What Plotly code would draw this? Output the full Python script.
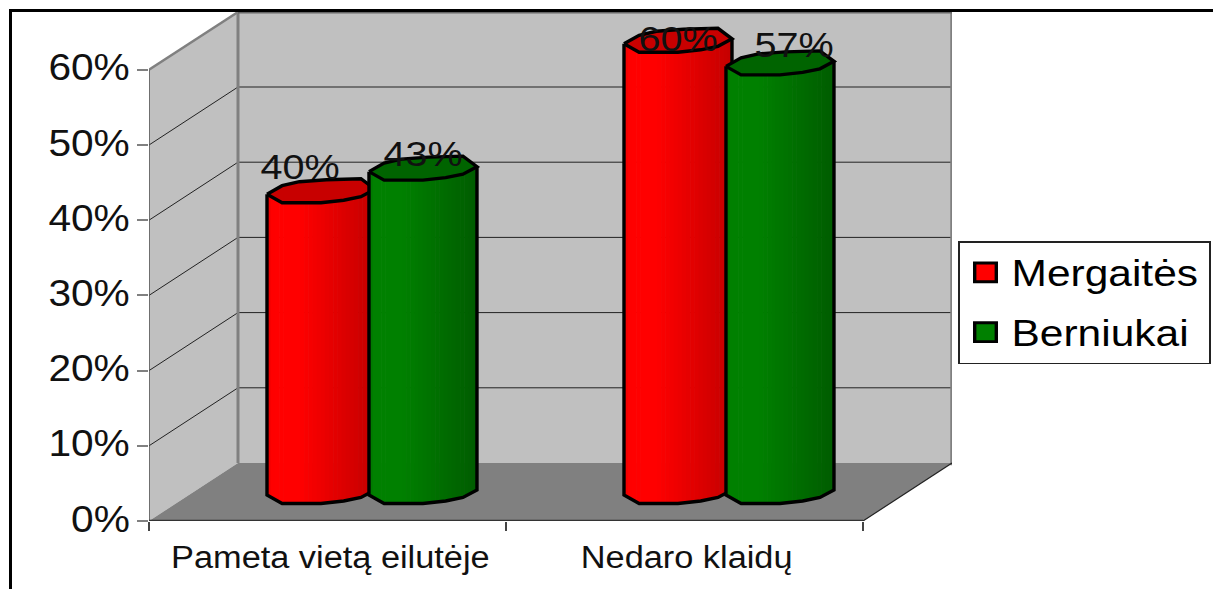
import numpy as np
import plotly.graph_objects as go

categories = ["Pameta vietą eilutėje", "Nedaro klaidų"]
mergaites = [40, 60]
berniukai = [43, 57]
y_ticks = [0, 10, 20, 30, 40, 50, 60]

FONT = "Liberation Sans, Arial, sans-serif"
W, H = 1213, 589
L, R, T, B = 149, 952, 12, 521
PX_Y = 7.52            # pixels per percent
PX_X = 357.0           # pixels per category
DX = 89 / PX_X         # 3D depth, in axis units
DY = 58 / PX_Y
XR = [-0.5, -0.5 + (R - L) / PX_X]
YR = [0, (B - T) / PX_Y]
CYL_W = 108 / PX_X
BASE = 26 / PX_Y       # cylinder foot above the front floor edge

# cylinder cap outline, as fraction of width / pixels from the left end
FU = [0, .14, .5, .71, .87, 1]
FV = [0, 8.5, 8.5, 6, 2.5, -5]
BU = [0, .14, .3, .55, .87, 1]
BV = [0, -8.5, -12.5, -14.5, -15.5, -5]


def front(u):
    return -np.interp(u, FU, FV) / PX_Y


def back(u):
    return -np.interp(u, BU, BV) / PX_Y


def shade(rgb_a, rgb_b, t):
    c = [int(round(a + (b - a) * t)) for a, b in zip(rgb_a, rgb_b)]
    return f"rgb({c[0]},{c[1]},{c[2]})"


def cylinder(fig, values, offset, stops, cap, xa, ya, name):
    n = 26
    edges = np.linspace(0, 1, n + 1)
    for i in range(n):
        um = (edges[i] + edges[i + 1]) / 2
        t = np.interp(um, [0, .06, .3, 1], [0.25, 0.0, 0.0, 1.0])
        col = shade(stops[0], stops[1], t)
        fig.add_trace(go.Bar(
            x=[k + offset + um * CYL_W for k in range(len(values))],
            y=list(values),
            base=[BASE + front(um)] * len(values),
            width=[CYL_W / n * 1.15] * len(values),
            marker=dict(color=col, line=dict(width=0)),
            showlegend=False, hoverinfo="skip", name=name,
            xaxis=xa, yaxis=ya,
        ))
    for k, v in enumerate(values):
        x0 = k + offset
        top = BASE + v
        ring_x, ring_y = [], []
        for u in BU:
            ring_x.append(x0 + u * CYL_W)
            ring_y.append(top + float(back(u)))
        for u in FU[::-1]:
            ring_x.append(x0 + u * CYL_W)
            ring_y.append(top + float(front(u)))
        fig.add_trace(go.Scatter(
            x=ring_x, y=ring_y, mode="lines", fill="toself", fillcolor=cap,
            line=dict(color="black", width=3.4), showlegend=False,
            hoverinfo="skip", xaxis=xa, yaxis=ya))
        sx = [x0, x0] + [x0 + u * CYL_W for u in FU[1:]] + [x0 + CYL_W, x0 + CYL_W]
        sy = [top, BASE] + [BASE + float(front(u)) for u in FU[1:]] + \
             [BASE + float(front(1)), top + float(front(1))]
        fig.add_trace(go.Scatter(
            x=sx, y=sy, mode="lines", line=dict(color="black", width=3.4),
            showlegend=False, hoverinfo="skip", xaxis=xa, yaxis=ya))


fig = go.Figure()

# ---- walls and floor
x0, x1 = XR[0], XR[0] + (863 - L) / PX_X
shapes = []


def poly(pts, fill, line=None, lw=0):
    d = "M" + " L".join(f"{a},{b}" for a, b in pts) + " Z"
    shapes.append(dict(type="path", path=d, xref="x", yref="y", fillcolor=fill,
                       line=dict(color=line or fill, width=lw), layer="below"))


def seg(a, b, c, d, col, w):
    shapes.append(dict(type="line", x0=a, y0=b, x1=c, y1=d, xref="x", yref="y",
                       line=dict(color=col, width=w), layer="below"))


ymax = y_ticks[-1]
poly([(x0 + DX, DY), (XR[1], DY), (XR[1], YR[1]), (x0 + DX, YR[1])], "#C0C0C0")
poly([(x0, 0), (x0 + DX, DY), (x0 + DX, YR[1]), (x0, ymax)], "#C0C0C0")
poly([(x0, 0), (x1, 0), (XR[1], DY), (x0 + DX, DY)], "#808080")
for t in y_ticks[1:-1]:
    seg(x0, t, x0 + DX, t + DY, "#222222", 1)
    seg(x0 + DX, t + DY, XR[1], t + DY, "#222222", 1)
seg(x0, ymax, x0 + DX, YR[1], "#808080", 2.5)
seg(x0 + DX, DY, x0 + DX, YR[1], "#808080", 3)
seg(XR[1], DY - 0.3, XR[1], YR[1], "#808080", 3.5)
seg(x0 + DX, YR[1], XR[1], YR[1], "#666666", 3)
seg(x0, 0, x0, ymax, "#555555", 1.5)
seg(x0, 0, x1, 0, "#333333", 2.5)
seg(x1, 0, XR[1], DY, "#222222", 1.2)

# ---- outer frame, cut off by the page at right and bottom
shapes.append(dict(type="path",
                   path=f"M{(10.5 - L) / (R - L)},{(B - H) / (B - T)} "
                        f"L{(10.5 - L) / (R - L)},{(B - 10.5) / (B - T)} "
                        f"L{(W - L) / (R - L)},{(B - 10.5) / (B - T)}",
                   xref="paper", yref="paper",
                   line=dict(color="black", width=3), layer="above"))

# ---- cylinders
cylinder(fig, mergaites, -0.1695, ((255, 0, 0), (196, 0, 0)), "#C80000", "x", "y", "Mergaitės")
cylinder(fig, berniukai, 0.1162, ((0, 128, 0), (0, 92, 0)), "#006400", "x2", "y2", "Berniukai")

# ---- legend entries
for nm, col, grp in (("Mergaitės", "#FF0000", "m"), ("Berniukai", "#008000", "b")):
    fig.add_trace(go.Scatter(
        x=[None], y=[None], mode="markers", name=nm, legendgroup=grp,
        marker=dict(symbol="square", size=16, color=col,
                    line=dict(color="black", width=2.5))))

# ---- data labels
label_offsets = {"m": [(-0.06, 28), (0.0, 5), ], "b": [(0.0, 18), (0.04, 22)]}
anns = []
for vals, off, key in ((mergaites, -0.1695, "m"), (berniukai, 0.1162, "b")):
    for k, v in enumerate(vals):
        dxx, dyy = label_offsets[key][k]
        anns.append(dict(
            x=k + off + CYL_W / 2 + dxx, y=BASE + v, xref="x", yref="y",
            text=f"{v}%", showarrow=False, yshift=dyy,
            font=dict(family=FONT, size=35, color="#111111")))

fig.update_layout(
    width=W, height=H, autosize=False,
    margin=dict(l=L, r=W - R, t=T, b=H - B, pad=0),
    paper_bgcolor="white", plot_bgcolor="white",
    barmode="overlay", shapes=shapes, annotations=anns,
    font=dict(family=FONT, color="black"),
    xaxis=dict(range=XR, tickmode="array", tickvals=[0.008, 1.006], ticktext=categories,
               showgrid=False, zeroline=False, showline=False, ticks="",
               tickfont=dict(size=31, family=FONT, color="#111111"),
               ticklabelstandoff=15,
               minor=dict(tickmode="array", tickvals=[-0.5, 0.5, 1.5],
                          ticks="outside", ticklen=9, tickwidth=1.5,
                          tickcolor="#444444", showgrid=False)),
    yaxis=dict(range=YR, tickmode="array", tickvals=y_ticks,
               ticktext=[f"{t}%" for t in y_ticks], showgrid=False, zeroline=False,
               showline=False, ticks="outside", ticklen=11, tickwidth=2,
               tickcolor="#808080",
               tickfont=dict(size=36, family=FONT, color="#111111")),
    xaxis2=dict(range=XR, overlaying="x", visible=False),
    yaxis2=dict(range=YR, overlaying="y", visible=False),
    legend=dict(x=(958 - L) / (R - L), xanchor="left", y=(B - 241) / (B - T), yanchor="top",
                bgcolor="white", bordercolor="#222222", borderwidth=1.5,
                font=dict(size=36, family=FONT, color="black"),
                tracegroupgap=10, itemwidth=42),
)

# the reference's lettering is stretched sideways
post = """
document.body.style.margin='0';document.body.style.overflow='hidden';
function stretch(sel,f,dy){document.querySelectorAll(sel).forEach(function(t){
  var w=t.getComputedTextLength();
  if(w>0){t.setAttribute('textLength',(w*f).toFixed(1));t.setAttribute('lengthAdjust','spacingAndGlyphs');}
  if(dy){t.setAttribute('y',parseFloat(t.getAttribute('y'))+dy);}
});}
stretch('.ytick text',1.13,-2);
stretch('.xtick text',1.107,0);
stretch('.annotation-text',1.13,0);
stretch('.legendtext',1.18,0);
document.querySelectorAll('.legendpoints path').forEach(function(p){
  var tr=p.getAttribute('transform')||'';p.setAttribute('transform',tr+' scale(1.35,1.18)');
});
var bg=document.querySelector('.legend .bg');if(bg){bg.setAttribute('width','251');}
document.querySelectorAll('clipPath[id*="legend"] rect').forEach(function(r){r.setAttribute('width','251');});
"""
fig.write_html("out.html", config={"displayModeBar": False}, post_script=post)
